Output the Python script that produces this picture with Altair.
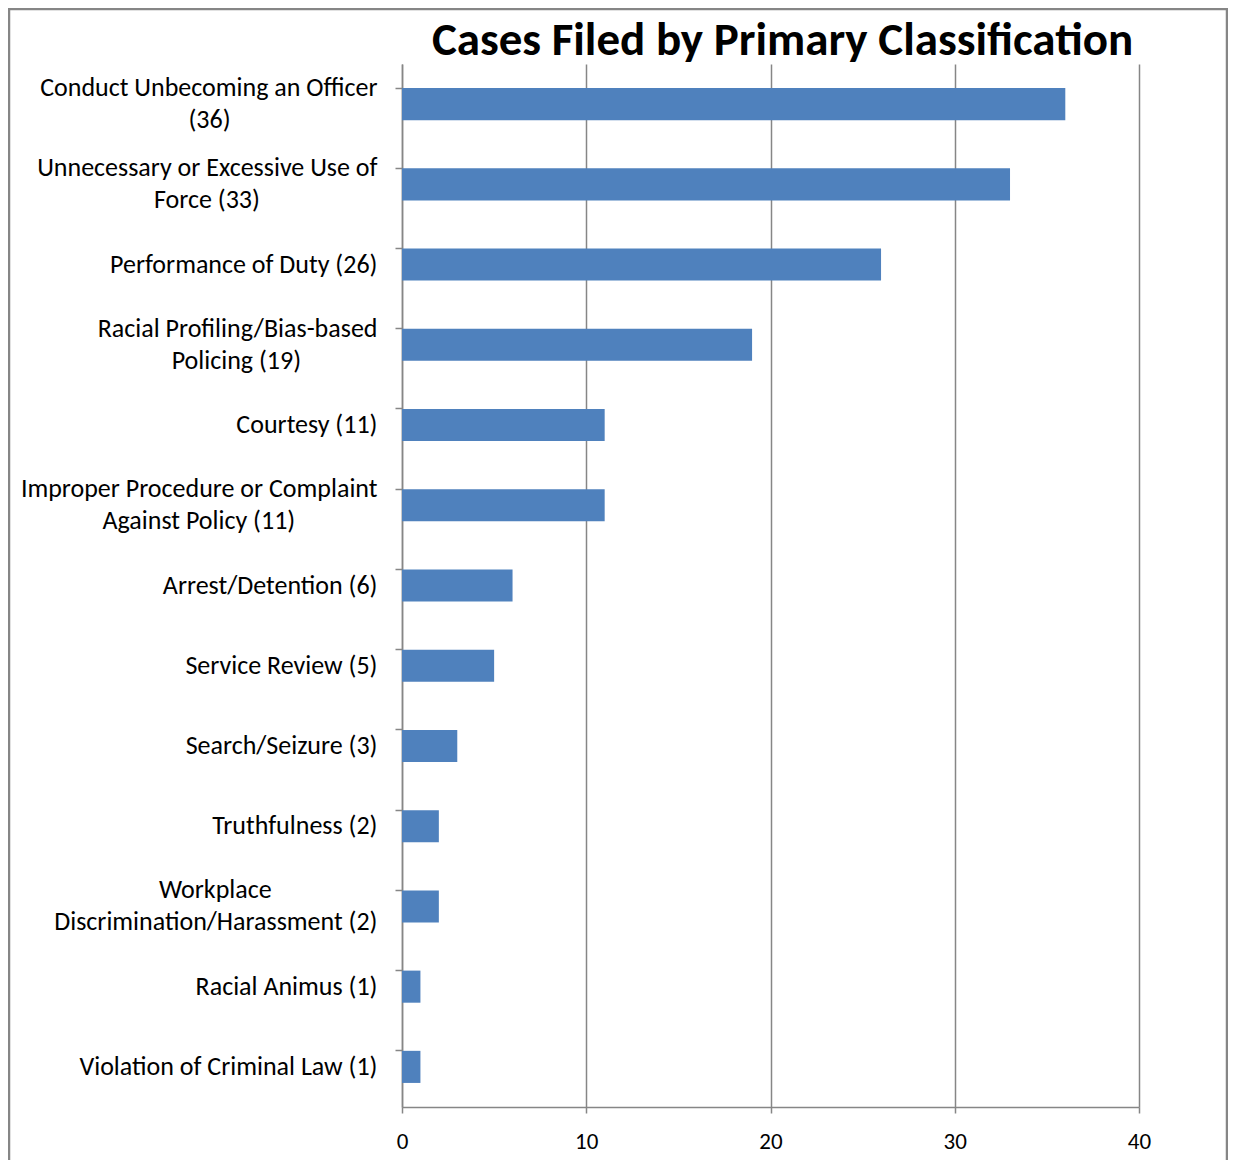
import altair as alt
import pandas as pd

NB = "\u00a0"
ZW = "\u200b"  # keeps the padding from being trimmed

# category label lines (first line, second line) and counts
line1 = [
    "Conduct Unbecoming an Officer",
    "Unnecessary or Excessive Use of",
    "Performance of Duty (26)",
    "Racial Profiling/Bias-based",
    "Courtesy (11)",
    "Improper Procedure or Complaint",
    "Arrest/Detention (6)",
    "Service Review (5)",
    "Search/Seizure (3)",
    "Truthfulness (2)",
    "Workplace",
    "Racial Animus (1)",
    "Violation of Criminal Law (1)",
]
line2 = [
    "(36)",
    "Force (33)",
    "",
    "Policing (19)",
    "",
    "Against Policy (11)",
    "",
    "",
    "",
    "",
    "Discrimination/Harassment (2)",
    "",
    "",
]
# non-breaking spaces used to centre the shorter line under/over the longer one
pad1 = [0, 0, 0, 0, 0, 0, 0, 0, 0, 0, 18, 0, 0]
pad2 = [25, 20, 0, 13, 0, 14, 0, 0, 0, 0, 0, 0, 0]
counts = [36, 33, 26, 19, 11, 11, 6, 5, 3, 2, 2, 1, 1]

labels = []
for a, b, p1, p2 in zip(line1, line2, pad1, pad2):
    s = a + (NB * p1 + ZW if p1 else "")
    if b:
        s += "|" + b + (NB * p2 + ZW if p2 else "")
    labels.append(s)

df = pd.DataFrame({"label": labels, "count": counts})

W, H = 737, 1043
FONT = "Carlito, Lato, sans-serif"
GRID = "#868686"

bars = alt.Chart(df).mark_bar(color="#4F81BD").encode(
    x=alt.X(
        "count:Q",
        scale=alt.Scale(domain=[0, 40], nice=False),
        axis=alt.Axis(
            values=[0, 10, 20, 30, 40],
            title=None,
            grid=True,
            gridColor=GRID,
            gridWidth=1.5,
            domainColor=GRID,
            domainWidth=1.5,
            tickColor=GRID,
            tickWidth=1.5,
            tickSize=6,
            labelFont=FONT,
            labelFontSize=23,
            labelColor="black",
            labelPadding=17,
            labelFlush=False,
        ),
    ),
    y=alt.Y(
        "label:N",
        sort=labels,
        scale=alt.Scale(paddingInner=0.6, paddingOuter=0.3),
        axis=alt.Axis(
            title=None,
            bandPosition=0,
            labelOffset={
                "condition": {"test": "indexof(datum.value, '|') >= 0", "value": -16},
                "value": 0,
            },
            labelExpr="split(datum.label, '|')",
            labelFont=FONT,
            labelFontSize=26,
            labelColor="black",
            labelLineHeight=32,
            labelPadding=18,
            labelLimit=0,
            tickSize=7,
            tickColor=GRID,
            tickWidth=1.5,
            domainColor=GRID,
            domainWidth=1.5,
            grid=False,
        ),
    ),
)

border = alt.Chart(alt.Data(values=[{"a": 1}])).mark_rect(
    filled=False, stroke=GRID, strokeWidth=2.5
).encode(
    x=alt.value(-393),
    x2=alt.value(W + 88),
    y=alt.value(-55),
    y2=alt.value(H + 300),
)

chart = alt.layer(border, bars).properties(
    width=W,
    height=H,
    padding={"left": 394, "top": 56, "right": 89, "bottom": 53},
    autosize=alt.AutoSizeParams(type="none"),
    title=alt.TitleParams(
        "Cases Filed by Primary Classification",
        font=FONT,
        fontSize=47,
        fontWeight="bold",
        color="black",
        anchor="middle",
        baseline="alphabetic",
        dx=12,
        offset=-94,
    ),
).configure_view(stroke=None)

chart.save("out.html", embed_options={"renderer": "svg", "actions": False})
